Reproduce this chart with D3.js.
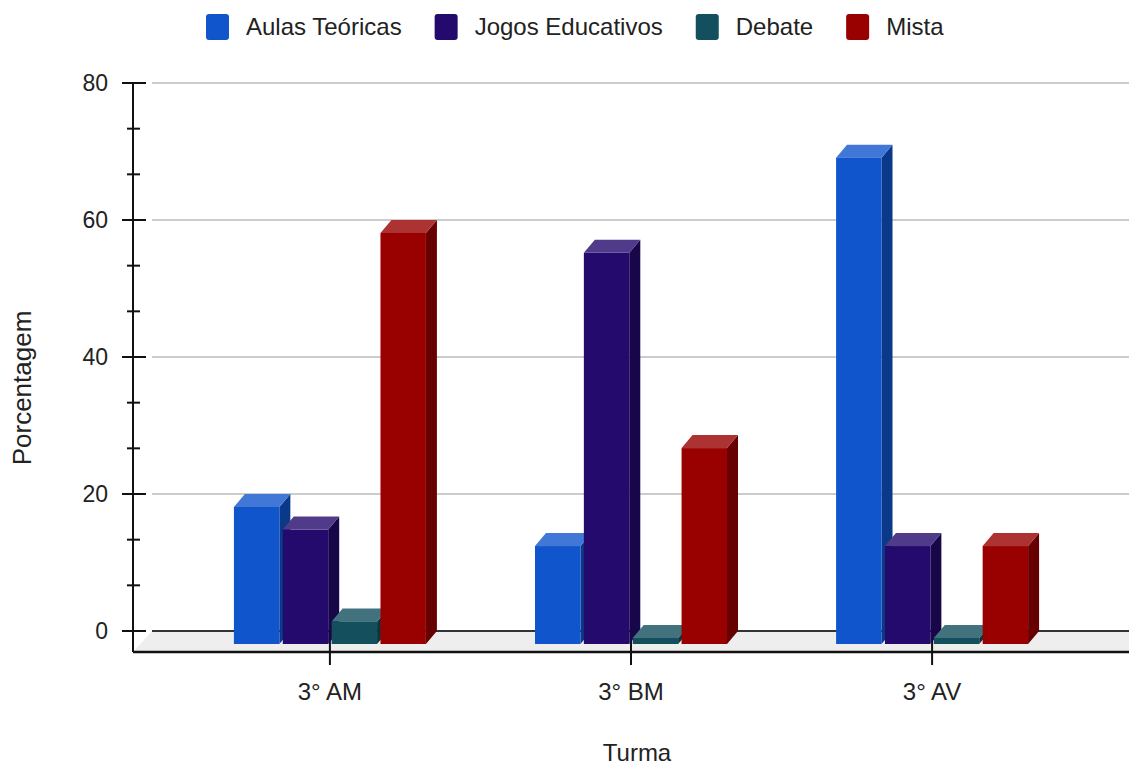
<!DOCTYPE html>
<html>
<head>
<meta charset="utf-8">
<script src="https://cdn.jsdelivr.net/npm/d3@7.9.0/dist/d3.min.js"></script>
<style>
  body { margin: 0; background: #fff; }
  svg { display: block; font-family: Arial, "Liberation Sans", sans-serif; }
</style>
</head>
<body>
<svg id="chart" width="1129" height="768"></svg>
<script>
// Data
const turmas = ['3° AM', '3° BM', '3° AV'];
const series = ['Aulas Teóricas', 'Jogos Educativos', 'Debate', 'Mista'];
const colors = ['#1155cc', '#230a6c', '#134f5c', '#990000'];
const aulasTeoricas = [20, 14.3, 71];
const jogosEducativos = [16.7, 57.1, 14.3];
const debate = [3.3, 0, 0];
const mista = [60, 28.6, 14.3];
const yTicks = [0, 20, 40, 60, 80];

const values = [aulasTeoricas, jogosEducativos, debate, mista];

const svg = d3.select('#chart');

// Layout of the pseudo-3D plot
const left = 133, right = 1129;
const depth = { dx: 11, dy: 13 };      // bar depth
const floorDepth = { dx: 19, dy: 21 }; // floor depth
const minBar = 6;

// y scale lives on the back wall
const y = d3.scaleLinear().domain([0, 80]).range([631, 83]);
const floorFront = y(0) + floorDepth.dy;

// Group positions (front face centres) and bars inside a group
const x = d3.scalePoint().domain(turmas).range([left, right]).padding(0.654);
const xInner = d3.scaleBand().domain(series).range([-96, 96]).paddingInner(0.07);

// Gridlines on the back wall
yTicks.filter((t) => t > 0).forEach((t) => {
  svg.append('line')
    .attr('x1', left + floorDepth.dx).attr('x2', right)
    .attr('y1', y(t)).attr('y2', y(t))
    .attr('stroke', '#cccccc').attr('stroke-width', 2);
});

// Floor
svg.append('path')
  .attr('d', `M${left + floorDepth.dx},${y(0)} L${right},${y(0)} L${right},${floorFront} L${left},${floorFront} Z`)
  .attr('fill', '#eeeeee');
svg.append('line')
  .attr('x1', left + floorDepth.dx).attr('x2', right)
  .attr('y1', y(0)).attr('y2', y(0))
  .attr('stroke', '#333').attr('stroke-width', 2);

// x ticks (drawn before the bars so the bars cover them)
turmas.forEach((t) => {
  svg.append('line')
    .attr('x1', x(t)).attr('x2', x(t))
    .attr('y1', y(0) + 7).attr('y2', floorFront + 13)
    .attr('stroke', '#111').attr('stroke-width', 2);
});

// Bars: front, top and side faces
turmas.forEach((t, gi) => {
  series.forEach((s, si) => {
    const v = values[si][gi];
    const base = d3.color(colors[si]);
    const top = d3.interpolateRgb(colors[si], '#ffffff')(0.2);
    const side = d3.rgb(base.r * 0.67, base.g * 0.67, base.b * 0.67).formatHex();

    const x0 = x(t) + xInner(s);
    const x1 = x0 + xInner.bandwidth();
    const yb = y(0) + depth.dy;
    const yt = Math.min(y(v) + depth.dy, yb - minBar);
    const { dx, dy } = depth;

    const g = svg.append('g').attr('class', 'bar');
    g.append('path')
      .attr('d', `M${x1},${yt} L${x1 + dx},${yt - dy} L${x1 + dx},${yb - dy} L${x1},${yb} Z`)
      .attr('fill', side);
    g.append('path')
      .attr('d', `M${x0},${yt} L${x0 + dx},${yt - dy} L${x1 + dx},${yt - dy} L${x1},${yt} Z`)
      .attr('fill', top);
    g.append('rect')
      .attr('x', x0).attr('y', yt)
      .attr('width', x1 - x0).attr('height', yb - yt)
      .attr('fill', colors[si]);
  });
});

// Front edge of the floor (x axis) and y axis line
svg.append('line')
  .attr('x1', left).attr('x2', right)
  .attr('y1', floorFront).attr('y2', floorFront)
  .attr('stroke', '#111').attr('stroke-width', 2.5);
svg.append('line')
  .attr('x1', left).attr('x2', left)
  .attr('y1', y(80)).attr('y2', floorFront)
  .attr('stroke', '#111').attr('stroke-width', 2);

// y ticks: major at labels, two minor in between
d3.range(0, 80.01, 80 / 12).forEach((t, i) => {
  const major = i % 3 === 0;
  svg.append('line')
    .attr('x1', major ? left - 11 : left - 6)
    .attr('x2', major ? left + 13 : left + 7)
    .attr('y1', y(t)).attr('y2', y(t))
    .attr('stroke', '#111').attr('stroke-width', 2);
});
yTicks.forEach((t) => {
  svg.append('text')
    .attr('x', left - 25).attr('y', y(t) + 8)
    .attr('text-anchor', 'end')
    .attr('font-size', 23).attr('fill', '#222')
    .text(t);
});

// x tick labels
turmas.forEach((t) => {
  svg.append('text')
    .attr('x', x(t)).attr('y', 700)
    .attr('text-anchor', 'middle')
    .attr('font-size', 24).attr('fill', '#222')
    .text(t);
});

// Axis titles
svg.append('text')
  .attr('transform', 'translate(31,388) rotate(-90)')
  .attr('text-anchor', 'middle')
  .attr('font-size', 26).attr('fill', '#222')
  .text('Porcentagem');
svg.append('text')
  .attr('x', 637).attr('y', 761)
  .attr('text-anchor', 'middle')
  .attr('font-size', 24).attr('fill', '#222')
  .text('Turma');

// Legend
let lx = 206;
series.forEach((s, i) => {
  svg.append('rect')
    .attr('x', lx).attr('y', 14)
    .attr('width', 23).attr('height', 26)
    .attr('rx', 3)
    .attr('fill', colors[i]);
  const label = svg.append('text')
    .attr('x', lx + 40).attr('y', 35)
    .attr('font-size', 24).attr('fill', '#222')
    .text(s);
  lx += 40 + label.node().getComputedTextLength() + 33;
});
</script>
</body>
</html>
